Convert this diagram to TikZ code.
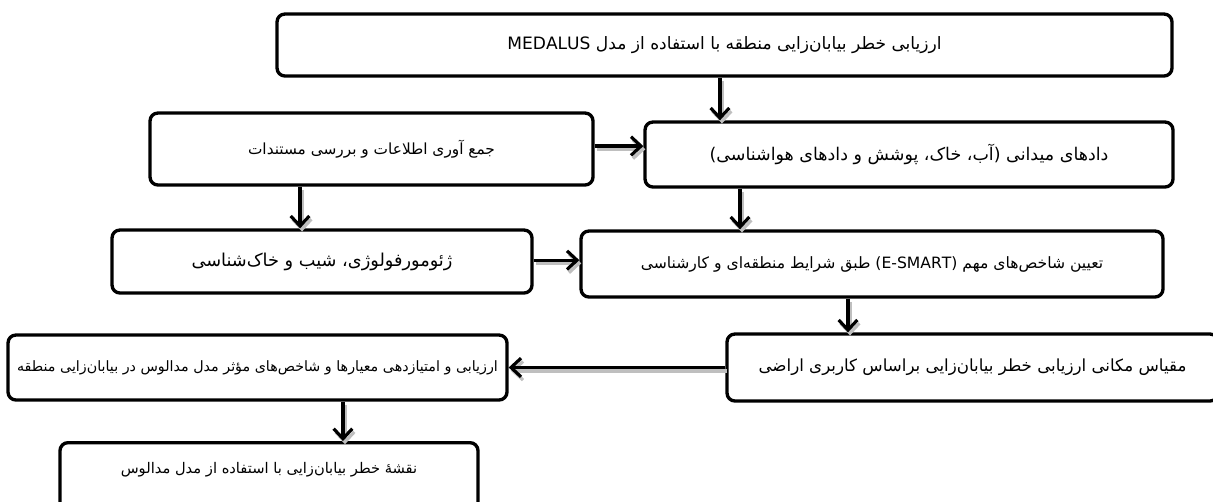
\documentclass[tikz,border=0pt]{standalone}
\usepackage{fontspec}
\newfontfamily\persianfont[Script=Arabic]{DejaVu Sans}
\TeXXeTstate=1
\usetikzlibrary{arrows.meta}
\newcommand{\fa}[1]{{\persianfont\beginR #1\endR}}

\tikzset{every picture/.style={line width=0.75pt}}
\tikzset{
  stagebox/.style={draw, line width=2.5pt, rounded corners=6pt, fill=white,
    font=\fontsize{12.5}{15}\selectfont, inner sep=0pt},
  flow/.style={line width=2.4pt, -{Straight Barb[length=7.5pt,width=14pt,line width=2.4pt]},
    preaction={draw=gray!50, line width=3pt,
      transform canvas={shift={(1.5pt,-2.4pt)}}}}
}

\begin{document}
\begin{tikzpicture}[x=0.75pt,y=0.75pt,yscale=-1,xscale=1]
    %set diagram size 1213 x 501
    \useasboundingbox (0,0) rectangle (1213,501);
    %Rounded Rect [id:top]
    \node[stagebox, minimum width=671.25pt, minimum height=46.5pt, font=\fontsize{12.8}{15}\selectfont] (top) at (724.5,45)
      {\fa{ارزیابی خطر بیابان‌زایی منطقه با استفاده از مدل \beginL MEDALUS\endL{}}};
    %Rounded Rect [id:info]
    \node[stagebox, minimum width=332.25pt, minimum height=54pt, font=\fontsize{11.5}{14}\selectfont] (info) at (371.5,149)
      {\fa{جمع آوری اطلاعات و بررسی مستندات}};
    %Rounded Rect [id:field]
    \node[stagebox, minimum width=396pt, minimum height=48.75pt, font=\fontsize{13.1}{15}\selectfont] (field) at (909,154.5)
      {\fa{دادهای میدانی (آب، خاک، پوشش و دادهای هواشناسی)}};
    %Rounded Rect [id:geo]
    \node[stagebox, minimum width=315pt, minimum height=47.25pt, font=\fontsize{13.3}{15}\selectfont] (geo) at (322,261.5)
      {\fa{ژئومورفولوژی، شیب و خاک‌شناسی}};
    %Rounded Rect [id:index]
    \node[stagebox, minimum width=436.5pt, minimum height=49.5pt, font=\fontsize{11.7}{14}\selectfont] (index) at (872,264)
      {\fa{تعیین شاخص‌های مهم (\beginL E-SMART\endL{}) طبق شرایط منطقه‌ای و کارشناسی}};
    %Rounded Rect [id:scale]
    \node[stagebox, minimum width=368.25pt, minimum height=50.25pt] (scale) at (972.5,367.5)
      {\fa{مقیاس مکانی ارزیابی خطر بیابان‌زایی براساس کاربری اراضی}};
    %Rounded Rect [id:eval]
    \node[stagebox, minimum width=374.25pt, minimum height=48.75pt, font=\fontsize{10.7}{13}\selectfont] (eval) at (257.5,367.5)
      {\fa{ارزیابی و امتیازدهی معیارها و شاخص‌های مؤثر مدل مدالوس در بیابان‌زایی منطقه}};
    %Rounded Rect [id:map]
    \node[stagebox, minimum width=313.5pt, text height=23.25pt, text depth=30pt, anchor=north, font=\fontsize{11}{13}\selectfont] (map) at (269,441)
      {\fa{نقشهٔ خطر بیابان‌زایی با استفاده از مدل مدالوس}};

    %Straight Lines [id:top-field]
    \draw[flow] ([xshift=-3.4pt]top.south) coordinate (a1) -- (a1 |- field.north);
    %Straight Lines [id:info-field]
    \draw[flow] ([yshift=-2.2pt]info.east) coordinate (a2) -- (a2 -| field.west);
    %Straight Lines [id:info-geo]
    \draw[flow] ([xshift=-53.6pt]info.south) coordinate (a3) -- (a3 |- geo.north);
    %Straight Lines [id:field-index]
    \draw[flow] ([xshift=-126.75pt]field.south) coordinate (a4) -- (a4 |- index.north);
    %Straight Lines [id:geo-index]
    \draw[flow] ([yshift=-1pt]geo.east) coordinate (a5) -- (a5 -| index.west);
    %Straight Lines [id:index-scale]
    \draw[flow] ([xshift=-18pt]index.south) coordinate (a6) -- (a6 |- scale.north);
    %Straight Lines [id:scale-eval]
    \draw[flow] (scale.west) -- (scale.west -| eval.east);
    %Straight Lines [id:eval-map]
    \draw[flow] ([xshift=64.1pt]eval.south) coordinate (a7) -- (a7 |- map.north);
  \end{tikzpicture}
\end{document}
